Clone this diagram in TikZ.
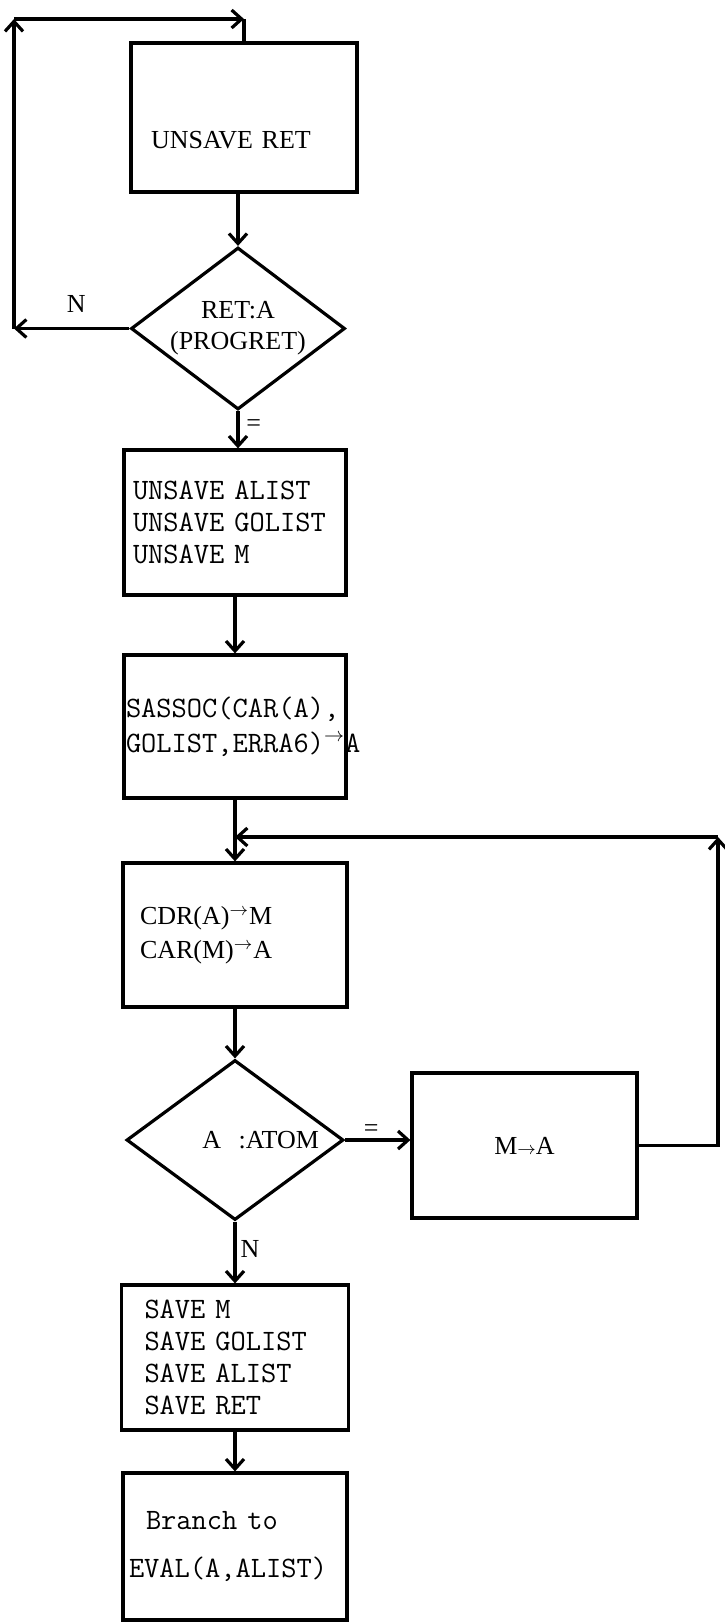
\documentclass[tikz,border=0pt]{standalone}
\usepackage{fontspec}
\setmainfont{Liberation Serif}
\usetikzlibrary{shapes.geometric,arrows.meta}

\begin{document}
\begin{tikzpicture}[x=0.5pt, y=-0.5pt, line width=1.6pt, >={Straight Barb[length=5pt,width=9pt]},
  font=\fontsize{13}{17}\selectfont,
  box/.style={draw, rectangle, inner ysep=0pt, align=left},
  test/.style={draw, diamond, inner sep=0pt, align=center},
  tt/.style={font=\ttfamily\fontsize{14.8}{16}\selectfont}]
  \useasboundingbox (0,0) rectangle (724,1623);
  \node[box, minimum width=113pt, minimum height=74.5pt, text width=93pt, inner xsep=10pt, text height=31pt, text depth=0pt] (ret) at (244,117.5) {UNSAVE RET};
  \node[test, minimum width=107pt, minimum height=81pt, aspect=1.32, font=\fontsize{13}{15.5}\selectfont] (prog) at (238,328.5) {RET:A\\(PROGRET)};
  \node[box, tt, minimum width=111pt, minimum height=72.5pt, text width=102pt, inner xsep=4.5pt] (unsave) at (235,522.5) {UNSAVE ALIST\\UNSAVE GOLIST\\UNSAVE M};
  \node[box, tt, minimum width=111pt, minimum height=71.5pt, text width=109pt, inner xsep=1pt] (sassoc) at (235,726.5) {\mbox{SASSOC(CAR(A),}\\[1.5pt]\mbox{GOLIST,ERRA6)\textsuperscript{$\rightarrow$}A}};
  \node[box, minimum width=112pt, minimum height=72pt, text width=95pt, inner xsep=8.5pt] (cdr) at (235,935) {CDR(A)\textsuperscript{$\rightarrow$}M\\CAR(M)\textsuperscript{$\rightarrow$}A};
  \node[test, minimum width=108.5pt, minimum height=80pt, aspect=1.36, text width=84pt, align=right] (atom) at (235,1140) {A\ \ :ATOM};
  \node[box, align=center, minimum width=112.5pt, minimum height=72.5pt] (mtoa) at (524.5,1145.5) {M$\scriptstyle\rightarrow$A};
  \node[box, tt, minimum width=113.5pt, minimum height=72.5pt, text width=90.5pt, inner xsep=11.5pt] (save) at (235,1357.5) {SAVE M\\SAVE GOLIST\\SAVE ALIST\\SAVE RET};
  \node[box, tt, minimum width=112pt, minimum height=73.5pt, text width=106pt, inner xsep=3pt] (branch) at (235,1546.5) {\hspace*{8.5pt}Branch to\\[8pt]EVAL(A,ALIST)};
  % loop back round the top
  \coordinate (nw) at (14,19); \coordinate (sw) at (nw |- prog.west); \coordinate (ne) at (nw -| ret.north);
  \draw[->] (prog.west) -- node[above=4pt, pos=.46]{N} (sw);
  \draw[->] (sw) -- (nw); \draw[->] (nw) -- (ne); \draw (ne) -- (ret.north);
  \draw[->] (ret.south -| prog.north) -- (prog.north);
  \draw[->] (prog.south) -- node[right, pos=.4]{=} (prog.south |- unsave.north);
  \draw[->] (unsave) -- (sassoc);
  % loop on the right
  \coordinate (join) at (235,837); \coordinate (loop) at (718,837);
  \draw (sassoc) -- (join); \draw[->] (join) -- (cdr);
  \draw[->] (cdr) -- (atom);
  \draw[->] (atom) -- node[above, inner sep=1pt, pos=.4]{=} (atom -| mtoa.west);
  \draw[->] (mtoa.east) -- (mtoa.east -| loop) -- (loop);
  \draw[->] (loop) -- (join);
  \draw[->] (atom) -- node[right, inner sep=2pt, pos=.45]{N} (save);
  \draw[->] (save) -- (branch);
\end{tikzpicture}
\end{document}
